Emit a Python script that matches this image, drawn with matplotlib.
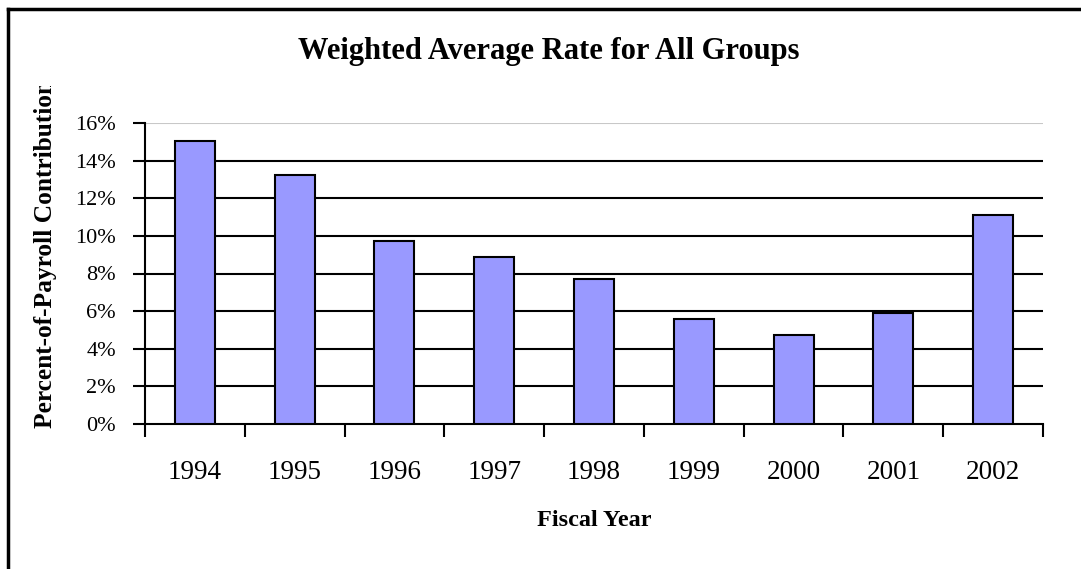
import matplotlib
matplotlib.use('Agg')
import matplotlib.pyplot as plt
from matplotlib.lines import Line2D
from matplotlib.transforms import Bbox
import numpy as np

# Data
years = ['1994', '1995', '1996', '1997', '1998', '1999', '2000', '2001', '2002']
rates = [15.05, 13.25, 9.73, 8.88, 7.71, 5.6, 4.75, 5.89, 11.12]  # percent
y_ticks = [0, 2, 4, 6, 8, 10, 12, 14, 16]

plt.rcParams['font.family'] = ['Liberation Serif', 'DejaVu Serif']

fig = plt.figure(figsize=(10.81, 5.69), dpi=100)
ax = fig.add_axes([145/1081, 1 - 424/569, (1043 - 145)/1081, (424 - 123)/569])

x = np.arange(len(years))
ax.bar(x, rates, width=0.4, color='#9999FF', edgecolor='black', linewidth=1.5, zorder=3)

ax.set_xlim(-0.5, len(years) - 0.5)
ax.set_ylim(0, 16)

# gridlines: black, top one light gray
for v in y_ticks[1:-1]:
    ax.axhline(v, color='black', linewidth=1.5, zorder=1)
ax.axhline(16, color='#c8c8c8', linewidth=1.5, zorder=1)

for s in ['top', 'right']:
    ax.spines[s].set_visible(False)
ax.spines['left'].set_linewidth(1.5)
ax.spines['bottom'].set_linewidth(1.5)

ax.set_yticks(y_ticks)
ax.set_yticklabels([f'{v}%' for v in y_ticks])
ax.tick_params(axis='y', direction='out', length=9, width=1.5, pad=12, labelsize=16)

ax.set_xticks(x)
ax.set_xticklabels(years)
ax.set_xticks(np.arange(-0.5, len(years)), minor=True)
ax.tick_params(axis='x', which='major', length=0, pad=26, labelsize=19.5)
ax.tick_params(axis='x', which='minor', direction='out', length=9, width=1.5)

fig.text(549/1081, 1 - 51/569, 'Weighted Average Rate for All Groups',
         ha='center', va='center', fontsize=22, fontweight='bold')
fig.text(594/1081, 1 - 520/569, 'Fiscal Year', ha='center', va='center',
         fontsize=17.5, fontweight='bold')

# axis title is cut off at the top in the original chart
ylab = fig.text(46/1081, 1 - 428/569, 'Percent-of-Payroll Contribution', rotation=90,
                ha='center', va='bottom', fontsize=18.3, fontweight='bold')
ylab.set_clip_box(Bbox([[0, 0], [1081, 569 - 86]]))
ylab.set_clip_on(True)

# outer chart frame (cropped on the right and bottom)
fig.add_artist(Line2D([8/1081, 8/1081], [0, 1 - 9/569], color='black', linewidth=2.5,
                      transform=fig.transFigure))
fig.add_artist(Line2D([8/1081, 1], [1 - 9/569, 1 - 9/569], color='black', linewidth=2.5,
                      transform=fig.transFigure))

fig.savefig('out.png', dpi=100)
